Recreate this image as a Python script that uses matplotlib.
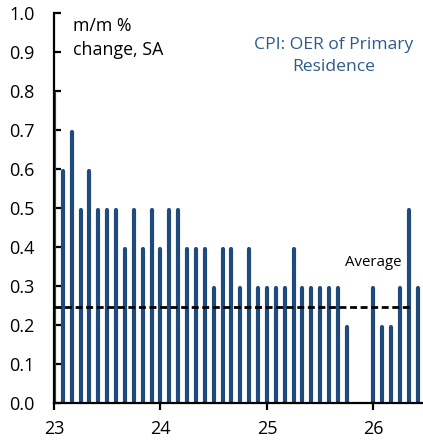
import numpy as np
import matplotlib
matplotlib.use("Agg")
import matplotlib.pyplot as plt

# ── 数据 ──────────────────────────────────────────────────
# monthly, Jan 2023 .. Jun 2026 (Nov/Dec 2025 missing)
months = ["2023-01", "2023-02", "2023-03", "2023-04", "2023-05", "2023-06",
          "2023-07", "2023-08", "2023-09", "2023-10", "2023-11", "2023-12",
          "2024-01", "2024-02", "2024-03", "2024-04", "2024-05", "2024-06",
          "2024-07", "2024-08", "2024-09", "2024-10", "2024-11", "2024-12",
          "2025-01", "2025-02", "2025-03", "2025-04", "2025-05", "2025-06",
          "2025-07", "2025-08", "2025-09", "2025-10", "2025-11", "2025-12",
          "2026-01", "2026-02", "2026-03", "2026-04", "2026-05", "2026-06"]
oer = [0.8, 0.6, 0.7, 0.5, 0.6, 0.5, 0.5, 0.5, 0.4, 0.5, 0.4, 0.5,
       0.4, 0.5, 0.5, 0.4, 0.4, 0.4, 0.3, 0.4, 0.4, 0.3, 0.4, 0.3,
       0.3, 0.3, 0.3, 0.4, 0.3, 0.3, 0.3, 0.3, 0.3, 0.2, None, None,
       0.3, 0.2, 0.2, 0.3, 0.5, 0.3]
average = 0.246
avg_start, avg_end = "2023-01", "2026-05"
year_ticks  = ["2023-01", "2024-01", "2025-01", "2026-01"]
year_labels = ["23", "24", "25", "26"]

BAR_COLOR  = "#1f4a7e"
TEXT_BLUE  = "#2d5b8e"
plt.rcParams["font.family"] = ["Open Sans", "DejaVu Sans"]


def month_index(m):
    y, mo = m.split("-")
    return (int(y) - 2023) * 12 + int(mo) - 1


x = np.array([month_index(m) for m in months], dtype=float)
v = np.array([np.nan if a is None else a for a in oer], dtype=float)
ok = ~np.isnan(v)

fig = plt.figure(figsize=(4.23, 4.40), dpi=100)
ax = fig.add_axes([0.1277, 0.084, 0.8723, 0.886])

ax.vlines(x[ok], 0, v[ok] - 0.005, colors=BAR_COLOR, linewidth=3.0,
          capstyle="round", zorder=2)
ax.hlines(average, month_index(avg_start), month_index(avg_end),
          colors="black", linewidth=2.0, linestyles=(0, (2.5, 1.3)), zorder=3)

ax.set_xlim(0, 41.6)
ax.set_ylim(0, 1.0)
ax.set_yticks(np.arange(0, 1.01, 0.1))
ax.set_yticklabels([f"{t:.1f}" for t in np.arange(0, 1.01, 0.1)])
ax.set_xticks([month_index(m) for m in year_ticks])
ax.set_xticklabels(year_labels)

for s in ["top", "right"]:
    ax.spines[s].set_visible(False)
for s in ["left", "bottom"]:
    ax.spines[s].set_linewidth(1.6)
    ax.spines[s].set_zorder(4)
ax.tick_params(axis="y", direction="in", length=5, width=1.6, pad=14,
               labelsize=13)
ax.tick_params(axis="x", direction="out", length=5, width=1.6, pad=7,
               labelsize=13)

ax.text(0.051, 0.99, "m/m %\nchange, SA", transform=ax.transAxes,
        fontsize=12.8, va="top", ha="left", linespacing=1.45)
ax.text(0.759, 0.938, "CPI: OER of Primary\nResidence", transform=ax.transAxes,
        fontsize=12.6, va="top", ha="center", color=TEXT_BLUE, linespacing=1.5)
ax.text(39.2, 0.36, "Average", fontsize=10.8, ha="right", va="center")

fig.savefig("out.png", dpi=100)
